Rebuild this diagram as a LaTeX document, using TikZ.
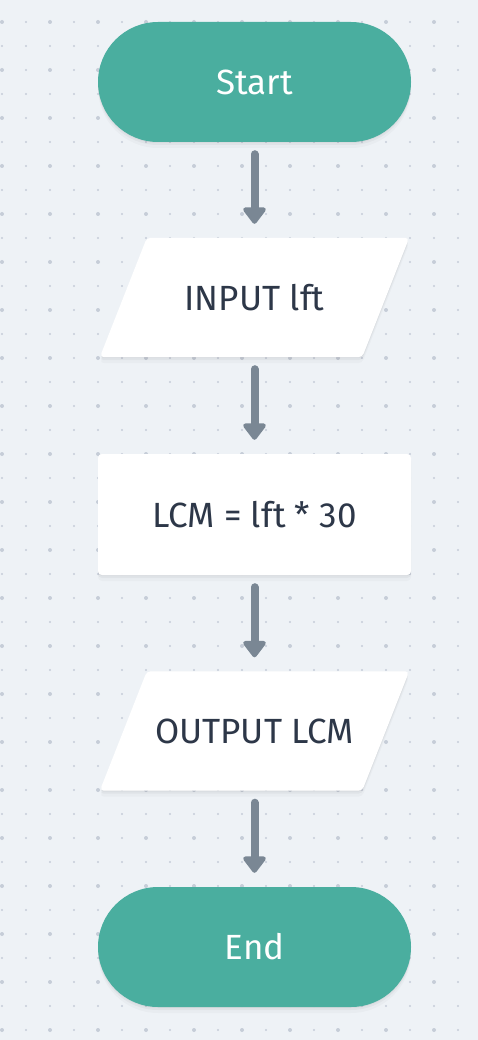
\documentclass[tikz,border=0pt]{standalone}
\usepackage{fontspec}
\setmainfont{Fira Sans}
\usetikzlibrary{arrows.meta}
\definecolor{bgc}{HTML}{EEF2F6}
\definecolor{dotc}{HTML}{C6CDD8}
\definecolor{teal}{HTML}{4AAE9F}
\definecolor{txt}{HTML}{2D3748}
\definecolor{arr}{HTML}{7A8794}
\pgfdeclarelayer{back}
\pgfdeclarelayer{bg}
\pgfsetlayers{back,bg,main}
\tikzset{
  shad/.style={
    preaction={fill=black,fill opacity=0.025,transform canvas={yshift=-6pt}},
    preaction={fill=black,fill opacity=0.035,transform canvas={yshift=-3pt}},
    preaction={fill=black,fill opacity=0.03,transform canvas={yshift=-1pt}}},
  lbl/.style={font=\fontsize{35}{40}\selectfont,inner sep=0pt},
  term/.style={shape=rectangle,rounded corners=60pt,fill=teal,text=white,minimum width=313pt,minimum height=120pt,lbl,shad},
  io/.style={shape=rectangle,text=txt,minimum width=309pt,minimum height=119pt,lbl},
  iofill/.style={fill=white,rounded corners=4pt,shad},
  proc/.style={shape=rectangle,rounded corners=4pt,fill=white,text=txt,minimum width=313pt,minimum height=121pt,lbl,shad},
  conn/.style={draw=arr,line width=8pt,line cap=round,-{Triangle[width=26pt,length=18pt,round]},shorten <=12pt,shorten >=14pt}
}
\begin{document}
\begin{tikzpicture}[x=1pt,y=-1pt]
\useasboundingbox (0,0) rectangle (478,1040);
\begin{pgfonlayer}{back}
\fill[bgc] (0,0) rectangle (478,1040);
\foreach \i in {0,...,19}{
  \foreach \j in {0,...,42}{
    \fill[dotc] (2+24*\i,22+24*\j) circle (1.2pt);
  }
}
\foreach \i in {0,...,9}{
  \foreach \j in {0,...,21}{
    \fill[dotc] (2+48*\i,22+48*\j) circle (2pt);
  }
}
\end{pgfonlayer}
\node[term] (start) at (254.5,82) {Start};
\node[io] (input) at (254.5,297.5) {INPUT lft};
\node[proc] (calc) at (254.5,514.5) {LCM = lft * 30};
\node[io] (output) at (254.5,731) {OUTPUT LCM};
\node[term] (end) at (254.5,947) {End};
\begin{pgfonlayer}{bg}
\foreach \n in {input,output}{
  \path[iofill] ([xshift=47pt]\n.north west) -- (\n.north east) -- ([xshift=-47pt]\n.south east) -- (\n.south west) -- cycle;
}
\end{pgfonlayer}
\draw[conn] (start.south) -- (input.north);
\draw[conn] (input.south) -- (calc.north);
\draw[conn] (calc.south) -- (output.north);
\draw[conn] (output.south) -- (end.north);
\end{tikzpicture}
\end{document}
